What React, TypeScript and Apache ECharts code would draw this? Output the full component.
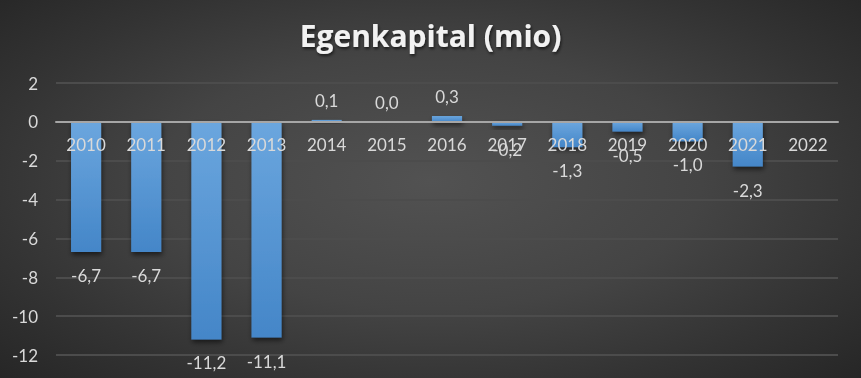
import React, { useEffect, useRef } from "react";
import * as echarts from "echarts";

const TITLE = "Egenkapital (mio)";
const YEARS = ["2010", "2011", "2012", "2013", "2014", "2015", "2016", "2017", "2018", "2019", "2020", "2021", "2022"];
const VALUES: (number | null)[] = [-6.7, -6.7, -11.2, -11.1, 0.1, 0.0, 0.3, -0.2, -1.3, -0.5, -1.0, -2.3, null];
const Y_MIN = -12;
const Y_MAX = 2;
const Y_STEP = 2;

const FONT = "Lato, 'Open Sans', sans-serif";
const TXT = "#d9d9d9";

const GRID_TOP = 83;
const GRID_BOTTOM = 23;
const H = 378;

export default function App() {
  const ref = useRef<HTMLDivElement>(null);
  useEffect(() => {
    document.body.style.margin = "0";
    if (!ref.current) return;
    const chart = echarts.init(ref.current, undefined, { renderer: "svg" });
    const barGrad = new echarts.graphic.LinearGradient(0, 0, 0, 1, [
      { offset: 0, color: "#6ba6de" },
      { offset: 1, color: "#4486c8" },
    ]);
    const plotH = H - GRID_TOP - GRID_BOTTOM;
    const zeroFromBottom = (plotH * (0 - Y_MIN)) / (Y_MAX - Y_MIN);
    chart.setOption({
      animation: false,
      title: {
        text: TITLE,
        left: "center",
        top: 15,
        textStyle: {
          color: "#f2f2f2",
          fontSize: 30,
          fontWeight: "bold",
          fontFamily: "'Open Sans', sans-serif",
          textShadowColor: "rgba(0,0,0,0.6)",
          textShadowBlur: 3,
          textShadowOffsetX: 1,
          textShadowOffsetY: 2,
        },
      },
      grid: { left: 56, right: 23, top: GRID_TOP, bottom: GRID_BOTTOM, containLabel: false },
      xAxis: {
        type: "category",
        data: YEARS,
        offset: -zeroFromBottom,
        axisLine: { onZero: false, lineStyle: { color: "#a6a6a6", width: 2 } },
        axisTick: { show: false },
        axisLabel: { color: TXT, fontSize: 17, fontFamily: FONT, margin: 14, interval: 0 },
        splitLine: { show: false },
        z: 5,
      },
      yAxis: {
        type: "value",
        min: Y_MIN,
        max: Y_MAX,
        interval: Y_STEP,
        axisLine: { show: false },
        axisTick: { show: false },
        axisLabel: { color: TXT, fontSize: 17, fontFamily: FONT, margin: 18 },
        splitLine: { lineStyle: { color: "#4c4c4c", width: 2 } },
      },
      series: [
        {
          type: "bar",
          barWidth: "50%",
          z: 3,
          data: VALUES.map((v) => ({
            value: v,
            label:
              v !== null && v < 0
                ? { position: "bottom", distance: 15 }
                : { position: "top", distance: 11 },
          })),
          itemStyle: {
            color: barGrad,
            shadowColor: "rgba(0,0,0,0.55)",
            shadowBlur: 5,
            shadowOffsetX: 1,
            shadowOffsetY: 3,
          },
          label: {
            show: true,
            color: TXT,
            fontSize: 17,
            fontFamily: FONT,
            formatter: (p: any) =>
              p.value === null || p.value === undefined ? "" : Number(p.value).toFixed(1).replace(".", ","),
          },
        },
      ],
    });
    return () => chart.dispose();
  }, []);
  return (
    <div
      ref={ref}
      style={{
        position: "fixed",
        left: 0,
        top: 0,
        width: 861,
        height: 378,
        background:
          "radial-gradient(ellipse 70% 75% at 50% 48%, #525252 0%, #444444 45%, #333333 75%, #262626 100%)",
      }}
    />
  );
}
